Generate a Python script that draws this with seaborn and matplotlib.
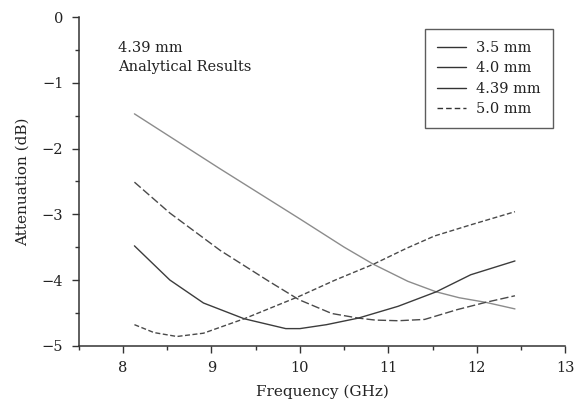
import numpy as np
import pandas as pd
import matplotlib
matplotlib.use("Agg")
import matplotlib.pyplot as plt
from matplotlib.lines import Line2D
from matplotlib.ticker import MultipleLocator
import seaborn as sns

# ---- data ----
labels = ["3.5 mm", "4.0 mm", "4.39 mm", "5.0 mm"]

x_35 = [8.13, 9.09, 10.0, 10.5, 10.83, 11.22, 11.54, 11.8, 12.10, 12.43]
y_35 = [-1.47, -2.30, -3.07, -3.50, -3.76, -4.02, -4.18, -4.27, -4.34, -4.44]

x_40 = [8.13, 8.53, 9.10, 9.65, 9.99, 10.36, 10.66, 10.85, 11.11, 11.41, 11.78, 12.10, 12.43]
y_40 = [-2.51, -2.98, -3.55, -4.02, -4.30, -4.51, -4.58, -4.61, -4.62, -4.60, -4.45, -4.34, -4.24]

x_439 = [8.13, 8.53, 8.91, 9.37, 9.84, 10.0, 10.3, 10.66, 11.11, 11.54, 11.93, 12.43]
y_439 = [-3.48, -4.00, -4.35, -4.59, -4.74, -4.74, -4.68, -4.58, -4.40, -4.18, -3.92, -3.71]

x_50 = [8.13, 8.35, 8.61, 8.91, 9.37, 9.99, 10.4, 10.83, 11.2, 11.52, 11.93, 12.43]
y_50 = [-4.68, -4.80, -4.86, -4.81, -4.59, -4.25, -4.00, -3.76, -3.52, -3.33, -3.16, -2.96]

annotation = "4.39 mm\nAnalytical Results"
xlabel = "Frequency (GHz)"
ylabel = "Attenuation (dB)"
xticks = [8, 9, 10, 11, 12, 13]
yticks = [0, -1, -2, -3, -4, -5]
yticklabels = ["0", "\u22121", "\u22122", "\u22123", "\u22124", "\u22125"]

frames = []
for lab, xs, ys in zip(labels, [x_35, x_40, x_439, x_50], [y_35, y_40, y_439, y_50]):
    frames.append(pd.DataFrame({"freq": xs, "att": ys, "thickness": lab}))
df = pd.concat(frames, ignore_index=True)

sns.set_theme(style="ticks")
plt.rcParams["font.family"] = ["DejaVu Serif"]
plt.rcParams["axes.unicode_minus"] = True

fig = plt.figure(figsize=(5.76, 4.09), dpi=100)
ax = fig.add_axes([0.1366, 0.1548, 0.845, 0.8029])

palette = {"3.5 mm": "#8c8c8c", "4.0 mm": "#4a4a4a", "4.39 mm": "#3c3c3c", "5.0 mm": "#4a4a4a"}
dashes = {"3.5 mm": "", "4.0 mm": (6, 2.2), "4.39 mm": "", "5.0 mm": (3.6, 1.8)}
sns.lineplot(data=df, x="freq", y="att", hue="thickness", style="thickness",
             palette=palette, dashes=dashes, sort=False, estimator=None,
             linewidth=1.0, legend=False, ax=ax)

ax.set_xlim(7.5, 13)
ax.set_ylim(-5, 0)
ax.set_xticks(xticks)
ax.set_yticks(yticks)
ax.set_yticklabels(yticklabels)
ax.xaxis.set_minor_locator(MultipleLocator(0.5))
ax.yaxis.set_minor_locator(MultipleLocator(0.5))
ax.tick_params(which="major", length=5, width=1.0, color="#333333", labelsize=10.5, pad=6,
               labelcolor="#222222")
ax.tick_params(which="minor", length=3, width=1.0, color="#333333")
for s in ["top", "right"]:
    ax.spines[s].set_visible(False)
for s in ["left", "bottom"]:
    ax.spines[s].set_linewidth(1.1)
    ax.spines[s].set_color("#333333")

ax.set_xlabel(xlabel, fontsize=11, color="#222222", labelpad=7)
ax.set_ylabel(ylabel, fontsize=11, color="#222222", labelpad=9)

ax.text(7.94, -0.36, annotation, fontsize=10.5, color="#222222", va="top", ha="left",
        linespacing=1.5)

handles = [Line2D([], [], color="#333333", lw=1.0),
           Line2D([], [], color="#333333", lw=1.0),
           Line2D([], [], color="#333333", lw=1.0),
           Line2D([], [], color="#333333", lw=1.0, dashes=(4, 2.2))]
leg = ax.legend(handles, labels, loc="upper right", bbox_to_anchor=(0.974, 0.964),
                frameon=True, fancybox=False, edgecolor="#333333", fontsize=10.5,
                handlelength=2.0, handletextpad=0.73, labelspacing=0.45,
                borderpad=0.8, borderaxespad=0)
leg.get_frame().set_linewidth(1.0)
for t in leg.get_texts():
    t.set_color("#222222")

fig.savefig("out.png", dpi=100)
